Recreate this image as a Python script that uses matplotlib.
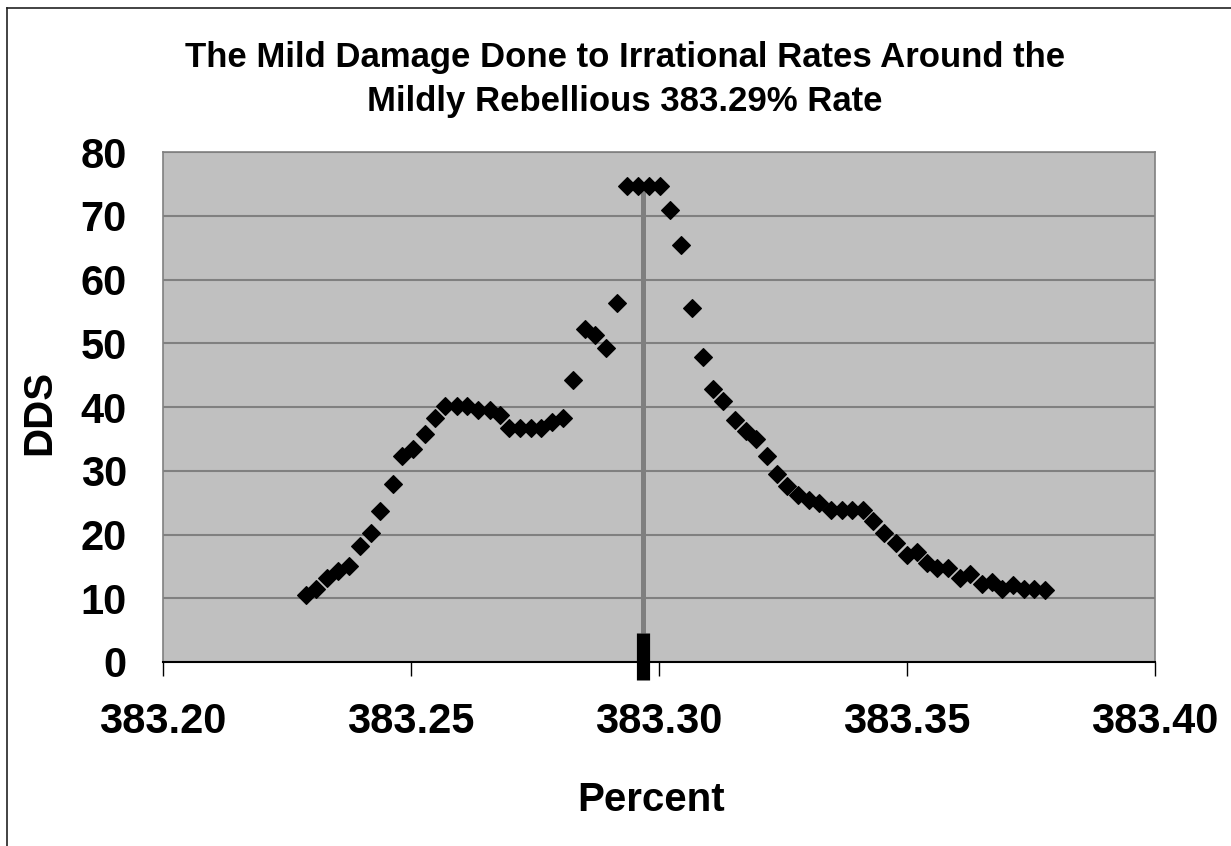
import numpy as np
import matplotlib
matplotlib.use("Agg")
import matplotlib.pyplot as plt
from matplotlib.lines import Line2D

plt.rcParams['font.family'] = ['Liberation Sans', 'DejaVu Sans']
plt.rcParams['font.weight'] = 'bold'

# rate (percent) vs DDS
rate = [383.2289, 383.2309, 383.2331, 383.2353, 383.2375, 383.2398, 383.2420, 383.2438,
        383.2463, 383.2482, 383.2504, 383.2528, 383.2548, 383.2568, 383.2592, 383.2613,
        383.2635, 383.2659, 383.2679, 383.2698, 383.2719, 383.2741, 383.2763, 383.2785,
        383.2807, 383.2827, 383.2851, 383.2871, 383.2893, 383.2915, 383.2936, 383.2958,
        383.2980, 383.3002, 383.3023, 383.3044, 383.3066, 383.3089, 383.3109, 383.3129,
        383.3153, 383.3175, 383.3195, 383.3218, 383.3237, 383.3259, 383.3281, 383.3303,
        383.3323, 383.3346, 383.3368, 383.3390, 383.3412, 383.3431, 383.3454, 383.3478,
        383.3499, 383.3520, 383.3541, 383.3561, 383.3583, 383.3606, 383.3627, 383.3651,
        383.3671, 383.3691, 383.3713, 383.3735, 383.3756, 383.3779]
dds = [10.5, 11.4, 13.1, 14.2, 15.0, 18.2, 20.2, 23.7,
       27.9, 32.3, 33.4, 35.8, 38.2, 40.1, 40.1, 40.1,
       39.5, 39.5, 38.8, 36.7, 36.7, 36.7, 36.7, 37.7,
       38.2, 44.2, 52.2, 51.3, 49.3, 56.3, 74.6, 74.6,
       74.6, 74.6, 70.9, 65.4, 55.5, 47.8, 42.9, 41.0,
       37.9, 36.3, 35.0, 32.3, 29.5, 27.6, 26.2, 25.4,
       25.0, 23.9, 23.9, 23.9, 23.9, 22.1, 20.2, 18.6,
       16.8, 17.3, 15.6, 14.7, 14.7, 13.1, 13.8, 12.3,
       12.5, 11.4, 12.1, 11.4, 11.4, 11.3]

# the marked rate: drop line and the black bar at its foot
mark_rate = 383.2968
mark_top = 74.6
bar_lo, bar_hi = -2.8, 4.5

fig = plt.figure(figsize=(12.31, 8.46), dpi=100)
ax = fig.add_axes([0.1324, 0.2175, 0.8059, 0.6028])
ax.set_facecolor('#c0c0c0')

ax.plot([mark_rate, mark_rate], [bar_hi, mark_top], color='#7f7f7f', lw=3.6,
        solid_capstyle='butt', zorder=3)
ax.plot([mark_rate, mark_rate], [bar_lo, bar_hi], color='black', lw=9.5,
        solid_capstyle='butt', clip_on=False, zorder=5)
ax.plot(rate, dds, linestyle='none', marker='D', ms=9.5, color='black',
        mec='black', mew=0.8, zorder=4)

ax.set_xlim(383.20, 383.40)
ax.set_ylim(0, 80)
ax.set_xticks([383.20, 383.25, 383.30, 383.35, 383.40])
ax.set_xticklabels(['383.20', '383.25', '383.30', '383.35', '383.40'])
ax.set_yticks(np.arange(0, 81, 10))
ax.yaxis.grid(True, color='#808080', lw=1.5)
ax.set_axisbelow(True)

ax.tick_params(axis='y', length=0, pad=26, labelsize=30)
ax.tick_params(axis='x', length=10, width=1.0, direction='out', pad=19, labelsize=30)
for lab in ax.get_xticklabels() + ax.get_yticklabels():
    lab.set_fontweight('bold')

for s in ['top', 'right', 'left']:
    ax.spines[s].set_color('#808080')
    ax.spines[s].set_linewidth(1.2)
ax.spines['bottom'].set_color('black')
ax.spines['bottom'].set_linewidth(1.5)

ax.set_xlabel('Percent', fontsize=29, fontweight='bold', va='center')
ax.xaxis.set_label_coords(0.492, -0.2706)
ax.set_ylabel('DDS', fontsize=29, fontweight='bold', va='center')
ax.yaxis.set_label_coords(-0.125, 0.49)

fig.text(0.5077, 0.906,
         'The Mild Damage Done to Irrational Rates Around the\nMildly Rebellious 383.29% Rate',
         ha='center', va='center', fontsize=25, fontweight='bold', linespacing=1.4)

# chart frame (left and top edges visible)
fig.add_artist(Line2D([7 / 1231, 7 / 1231], [0, 1 - 8 / 846], color='#222222', lw=1.2))
fig.add_artist(Line2D([7 / 1231, 1], [1 - 8 / 846, 1 - 8 / 846], color='#222222', lw=1.2))

fig.savefig('out.png', dpi=100)
